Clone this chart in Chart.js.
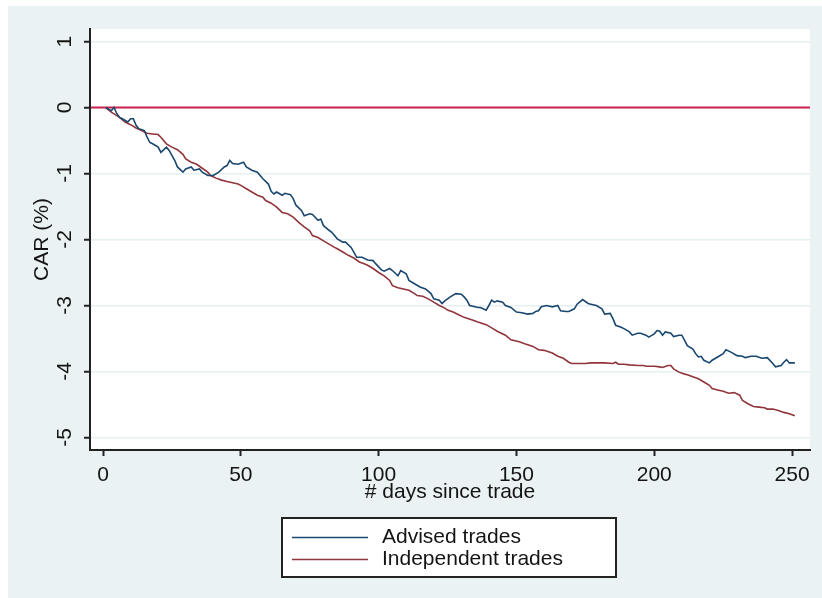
<!DOCTYPE html>
<html>
<head>
<meta charset="utf-8">
<title>CAR after trade</title>
<script src="https://cdn.jsdelivr.net/npm/chart.js@4.4.1/dist/chart.umd.min.js"></script>
<style>
  html, body { margin: 0; padding: 0; background: #ffffff; }
  #wrap { width: 822px; height: 598px; }
</style>
</head>
<body>
<div id="wrap"><canvas id="car" width="822" height="598"></canvas></div>
<script>
// Cumulative abnormal return (%) by trading day after the trade
const advisedDays = [1,3,4,5,6,7,9,10,11,12,13,15,16,17,18,20,21,23,24,26,27,29,30,32,33,35,36,38,40,42,44,45,46,47,49,51,52,54,56,58,60,61,62,63,65,66,68,69,70,72,73,75,76,78,79,80,82,83,85,87,88,90,91,92,94,96,98,99,101,102,104,105,107,108,110,111,113,115,117,119,120,122,123,124,126,128,130,131,132,133,135,136,137,139,140,141,142,143,145,146,148,150,152,154,156,157,158,159,161,163,165,166,168,169,171,172,174,176,177,179,181,182,184,185,186,188,189,191,192,194,195,197,198,200,201,202,203,204,206,207,209,210,211,212,214,215,216,217,218,220,221,223,225,226,228,230,232,233,234,235,237,239,241,243,244,246,247,248,249,251];
const advisedCar = [0.00,-0.05,0.00,-0.09,-0.15,-0.17,-0.22,-0.17,-0.17,-0.27,-0.32,-0.35,-0.45,-0.53,-0.55,-0.60,-0.68,-0.60,-0.65,-0.80,-0.90,-0.98,-0.93,-0.90,-0.95,-0.93,-0.98,-1.03,-1.03,-0.98,-0.90,-0.88,-0.80,-0.85,-0.86,-0.83,-0.90,-0.95,-0.98,-1.08,-1.16,-1.27,-1.31,-1.28,-1.33,-1.30,-1.32,-1.38,-1.48,-1.56,-1.64,-1.61,-1.62,-1.71,-1.69,-1.79,-1.86,-1.89,-1.99,-2.04,-2.04,-2.12,-2.19,-2.27,-2.27,-2.31,-2.32,-2.37,-2.46,-2.48,-2.44,-2.47,-2.55,-2.47,-2.52,-2.62,-2.67,-2.72,-2.75,-2.82,-2.90,-2.92,-2.97,-2.93,-2.87,-2.82,-2.83,-2.87,-2.92,-3.00,-3.02,-3.03,-3.03,-3.07,-3.00,-2.92,-2.95,-2.93,-2.95,-3.00,-3.03,-3.10,-3.11,-3.13,-3.12,-3.09,-3.08,-3.02,-3.00,-3.02,-3.00,-3.08,-3.09,-3.09,-3.05,-2.98,-2.91,-2.97,-2.98,-3.00,-3.05,-3.13,-3.12,-3.20,-3.30,-3.33,-3.35,-3.40,-3.45,-3.42,-3.42,-3.45,-3.48,-3.43,-3.38,-3.39,-3.45,-3.40,-3.42,-3.47,-3.45,-3.45,-3.53,-3.61,-3.66,-3.73,-3.78,-3.77,-3.83,-3.87,-3.83,-3.78,-3.73,-3.67,-3.71,-3.76,-3.77,-3.79,-3.78,-3.77,-3.77,-3.80,-3.79,-3.88,-3.93,-3.91,-3.86,-3.82,-3.87,-3.87];

const independentDays = [1,3,6,8,10,12,14,16,18,20,21,23,25,27,29,30,32,34,36,38,39,41,43,45,47,49,50,52,54,56,58,59,61,63,65,67,69,71,73,75,76,78,80,82,84,85,87,89,91,93,95,96,98,100,102,104,105,107,109,111,113,114,116,118,120,122,124,125,127,129,131,134,136,139,141,143,146,148,151,153,156,158,160,163,165,167,169,170,173,175,177,180,182,185,186,187,189,191,194,196,197,200,202,203,205,206,207,209,211,212,214,216,218,220,221,223,225,227,229,231,232,234,236,238,240,241,243,245,247,249,251];
const independentCar = [0.00,-0.07,-0.15,-0.22,-0.26,-0.31,-0.35,-0.39,-0.40,-0.41,-0.45,-0.55,-0.60,-0.64,-0.71,-0.78,-0.83,-0.86,-0.92,-0.98,-1.03,-1.07,-1.10,-1.12,-1.14,-1.16,-1.18,-1.23,-1.28,-1.33,-1.36,-1.41,-1.45,-1.51,-1.59,-1.61,-1.66,-1.74,-1.81,-1.87,-1.94,-1.97,-2.02,-2.07,-2.12,-2.14,-2.19,-2.24,-2.28,-2.34,-2.37,-2.39,-2.44,-2.50,-2.55,-2.62,-2.70,-2.73,-2.75,-2.77,-2.82,-2.85,-2.86,-2.90,-2.95,-3.00,-3.04,-3.07,-3.10,-3.14,-3.18,-3.22,-3.25,-3.29,-3.34,-3.39,-3.45,-3.52,-3.55,-3.58,-3.62,-3.67,-3.68,-3.72,-3.77,-3.80,-3.86,-3.88,-3.88,-3.88,-3.87,-3.87,-3.87,-3.88,-3.86,-3.89,-3.89,-3.90,-3.91,-3.91,-3.92,-3.92,-3.93,-3.94,-3.91,-3.91,-3.96,-4.01,-4.04,-4.05,-4.08,-4.11,-4.16,-4.21,-4.26,-4.28,-4.30,-4.33,-4.32,-4.36,-4.44,-4.49,-4.53,-4.54,-4.55,-4.57,-4.57,-4.59,-4.62,-4.64,-4.67];

const seriesNames = ['Advised trades', 'Independent trades'];
const seriesColors = ['#1A476F', '#90353B'];
const xTitle = '# days since trade';
const yTitle = 'CAR (%)';
const referenceLevel = 0;

const toPoints = (days, vals) => days.map((d, i) => ({ x: d, y: vals[i] }));

const FONT = '"Liberation Sans", Arial, sans-serif';
const TEXT = '#141414';
const AXIS = '#222222';

// Backgrounds, zero line, axis text and the framed legend
const stataLook = {
  id: 'stataLook',
  beforeDraw(chart) {
    const { ctx, chartArea: a } = chart;
    ctx.save();
    ctx.fillStyle = '#ffffff';
    ctx.fillRect(0, 0, chart.width, chart.height);
    ctx.fillStyle = '#EAF2F3';
    ctx.fillRect(8, 6, chart.width - 8, chart.height - 6);
    ctx.fillStyle = '#ffffff';
    ctx.fillRect(a.left, a.top, a.right - a.left, a.bottom - a.top);
    ctx.restore();
  },
  beforeDatasetsDraw(chart) {
    const { ctx, chartArea: a, scales } = chart;
    const y = scales.y.getPixelForValue(referenceLevel);
    ctx.save();
    ctx.strokeStyle = '#C8234C';
    ctx.lineWidth = 2;
    ctx.beginPath();
    ctx.moveTo(a.left + 1, y);
    ctx.lineTo(a.right, y);
    ctx.stroke();
    ctx.restore();
  },
  afterDraw(chart) {
    const { ctx, chartArea: a, scales } = chart;
    ctx.save();
    ctx.fillStyle = TEXT;
    ctx.font = '21px ' + FONT;
    ctx.textAlign = 'center';
    ctx.textBaseline = 'middle';

    // x tick labels
    scales.x.ticks.forEach(t => {
      ctx.fillText(String(t.value), scales.x.getPixelForValue(t.value), 475);
    });
    // x title
    ctx.fillText(xTitle, (a.left + a.right) / 2, 492);

    // y tick labels, vertical like the axis title
    scales.y.ticks.forEach(t => {
      const py = scales.y.getPixelForValue(t.value);
      ctx.save();
      ctx.translate(65, py);
      ctx.rotate(-Math.PI / 2);
      ctx.fillText(String(t.value), 0, 0);
      ctx.restore();
    });
    // y title
    ctx.save();
    ctx.translate(42, (a.top + a.bottom) / 2);
    ctx.rotate(-Math.PI / 2);
    ctx.fillText(yTitle, 0, 0);
    ctx.restore();

    // legend box
    const bx = 282, by = 518, bw = 334, bh = 59;
    ctx.fillStyle = '#ffffff';
    ctx.fillRect(bx, by, bw, bh);
    ctx.strokeStyle = AXIS;
    ctx.lineWidth = 2;
    ctx.strokeRect(bx, by, bw, bh);
    const rows = [537.5, 559.5];
    chart.data.datasets.forEach((ds, i) => {
      ctx.strokeStyle = ds.borderColor;
      ctx.lineWidth = 1.6;
      ctx.beginPath();
      ctx.moveTo(292, rows[i]);
      ctx.lineTo(368, rows[i]);
      ctx.stroke();
      ctx.fillStyle = TEXT;
      ctx.textAlign = 'left';
      ctx.fillText(ds.label, 382, rows[i]);
    });
    ctx.restore();
  }
};

new Chart(document.getElementById('car'), {
  type: 'line',
  data: {
    datasets: [
      { label: seriesNames[0], data: toPoints(advisedDays, advisedCar), borderColor: seriesColors[0], borderWidth: 1.6 },
      { label: seriesNames[1], data: toPoints(independentDays, independentCar), borderColor: seriesColors[1], borderWidth: 1.6 }
    ]
  },
  options: {
    responsive: false,
    devicePixelRatio: 1,
    animation: false,
    parsing: true,
    layout: { padding: { left: 0, top: 29, right: 12, bottom: 0 } },
    elements: { point: { radius: 0 }, line: { tension: 0, fill: false } },
    plugins: { legend: { display: false }, tooltip: { enabled: false } },
    scales: {
      x: {
        type: 'linear',
        min: -4.72,
        max: 256.5,
        afterFit(scale) { scale.height = 148; },
        ticks: { display: false, stepSize: 50, includeBounds: false },
        grid: { drawOnChartArea: false, drawTicks: true, tickLength: 6, tickColor: AXIS, tickWidth: 2 },
        border: { display: true, color: AXIS, width: 2 }
      },
      y: {
        type: 'linear',
        min: -5.19,
        max: 1.19,
        afterFit(scale) { scale.width = 90; },
        ticks: { display: false, stepSize: 1, includeBounds: false },
        grid: { color: '#E6EFF1', lineWidth: 1.5, drawTicks: true, tickLength: 6, tickColor: AXIS, tickWidth: 2 },
        border: { display: true, color: AXIS, width: 2 }
      }
    }
  },
  plugins: [stataLook]
});
</script>
</body>
</html>
